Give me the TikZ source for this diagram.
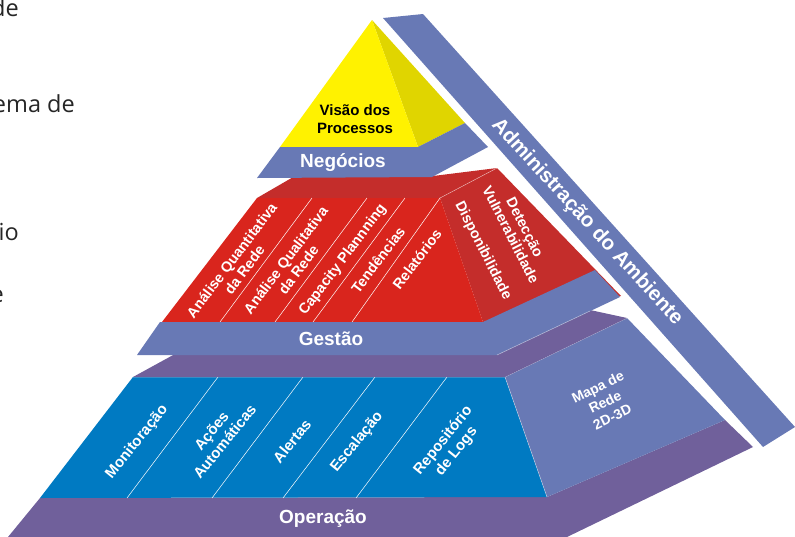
\documentclass[tikz,border=0pt]{standalone}
\usepackage{fontspec}
\setmainfont{Liberation Sans}
\newfontfamily\docfont{Open Sans}
\definecolor{bandblue}{HTML}{6879B5}
\definecolor{yelfront}{HTML}{FFF200}
\definecolor{yelside}{HTML}{E0D500}
\definecolor{redfront}{HTML}{D9251D}
\definecolor{redside}{HTML}{C42D2B}
\definecolor{purp}{HTML}{70609B}
\definecolor{opblue}{HTML}{007AC2}
\definecolor{doctext}{HTML}{262626}
\begin{document}
\begin{tikzpicture}[x=1pt,y=-1pt,
  lbl/.style={text=white,font={\fontsize{15}{17}\selectfont\bfseries},align=center,inner sep=0pt},
  rlbl/.style={text=white,font={\fontsize{14.5}{16}\selectfont\bfseries},align=center,inner sep=0pt},
  bandlbl/.style={text=white,font={\fontsize{19}{21}\selectfont\bfseries},inner sep=0pt},
  divider/.style={draw=white,line width=0.5pt},
  edge/.style={draw=white,draw opacity=0.55,line width=0.5pt},
  doc/.style={text=doctext,font={\docfont\fontsize{23.5}{27}\selectfont},inner sep=0pt,anchor=base east}]
\useasboundingbox (0,0) rectangle (795,536);

% text of the surrounding document
\node[doc] (d1) at (19,16) {de};
\node[doc] (d2) at (75,112) {ema de};
\node[doc] (d3) at (19,240) {io};
\node[doc] (d4) at (4,302) {e};

% Administracao band
\fill[bandblue] (383,18) -- (423,14) -- (795,427) -- (763,447) -- cycle;
\node[text=white,font={\fontsize{20.5}{24}\selectfont\bfseries},inner sep=0pt,rotate=-47.5] (adm) at (587,222) {Administração do Ambiente};

% Operacao layer
\fill[purp] (40,498) -- (547,497) -- (725,420) -- (753,447) -- (567,537) -- (8,537) -- cycle;
\fill[opblue] (133,377) -- (505,377) -- (547,497) -- (40,498) -- cycle;
\fill[bandblue] (505,377) -- (627,318) -- (725,420) -- (547,497) -- cycle;
\draw[edge] (133,377) -- (505,377) -- (547,497);
\draw[edge] (505,377) -- (627,318);
\draw[divider] (218,377) -- (127,498);
\draw[divider] (303,377) -- (212,498);
\draw[divider] (375,377) -- (283,498);
\draw[divider] (447,377) -- (356,498);
\node[bandlbl] (op) at (323,519) {Operação};
\node[lbl,rotate=51] (mon) at (137,442) {Monitoração};
\node[lbl,rotate=51] (acoes) at (218,436) {Ações\\Automáticas};
\node[lbl,rotate=51] (alert) at (292,441) {Alertas};
\node[lbl,rotate=51] (escal) at (357,442) {Escalação};
\node[lbl,rotate=51] (repo) at (450,446) {Repositório\\de Logs};
\node[text=white,font={\fontsize{14}{16.5}\selectfont\bfseries},align=center,inner sep=0pt,rotate=26] (mapa) at (605,402) {Mapa de\\Rede\\2D-3D};

% purple top of operacao layer
\fill[purp] (133,377) -- (175,354) -- (497,354) -- (590,310) -- (627,318) -- (505,377) -- cycle;

% Gestao layer (red)
\fill[redside] (257,198) -- (295,176) -- (433,176) -- (497,168) -- (440,198) -- cycle;
\fill[redside] (440,198) -- (497,168) -- (621,296) -- (483,322) -- cycle;
\fill[redfront] (257,198) -- (440,198) -- (483,322) -- (162,322) -- cycle;
\draw[divider] (312,198) -- (220,322);
\draw[divider] (367,198) -- (275,322);
\draw[divider] (405,198) -- (313,322);
\draw[divider] (440,198) -- (352,322);
\draw[edge] (440,198) -- (497,168);
\node[rlbl,rotate=53] (aqt) at (238,265) {Análise Quantitativa\\da Rede};
\node[rlbl,rotate=53] (aql) at (292,265) {Análise Qualitativa\\da Rede};
\node[rlbl,rotate=53] (cap) at (343,260) {Capacity Plannning};
\node[rlbl,rotate=53] (tend) at (378,260) {Tendências};
\node[rlbl,rotate=53] (rel) at (417,259) {Relatórios};
\node[rlbl,rotate=-63] (detv) at (518,231) {Detecção\\Vulnerabilidade};
\node[rlbl,rotate=-63] (disp) at (483,251) {Disponibilidade};

% Gestao band
\fill[bandblue] (160,322) -- (483,322) -- (595,270) -- (620,297) -- (497,355) -- (137,355) -- cycle;
\draw[edge] (497,355) -- (590,311);
\node[bandlbl] (gest) at (331,339) {Gestão};

% Negocios layer
\fill[yelside] (372,20) -- (418,147) -- (465,123) -- cycle;
\fill[yelfront] (372,20) -- (280,147) -- (418,147) -- cycle;
\fill[bandblue] (280,147) -- (418,147) -- (465,123) -- (488,147) -- (432,177) -- (257,178) -- cycle;
\node[bandlbl] (neg) at (343,163) {Negócios};
\node[text=black,font={\fontsize{15}{18}\selectfont\bfseries},align=center,inner sep=0pt] (visao) at (355,119) {Visão dos\\Processos};
\end{tikzpicture}
\end{document}
